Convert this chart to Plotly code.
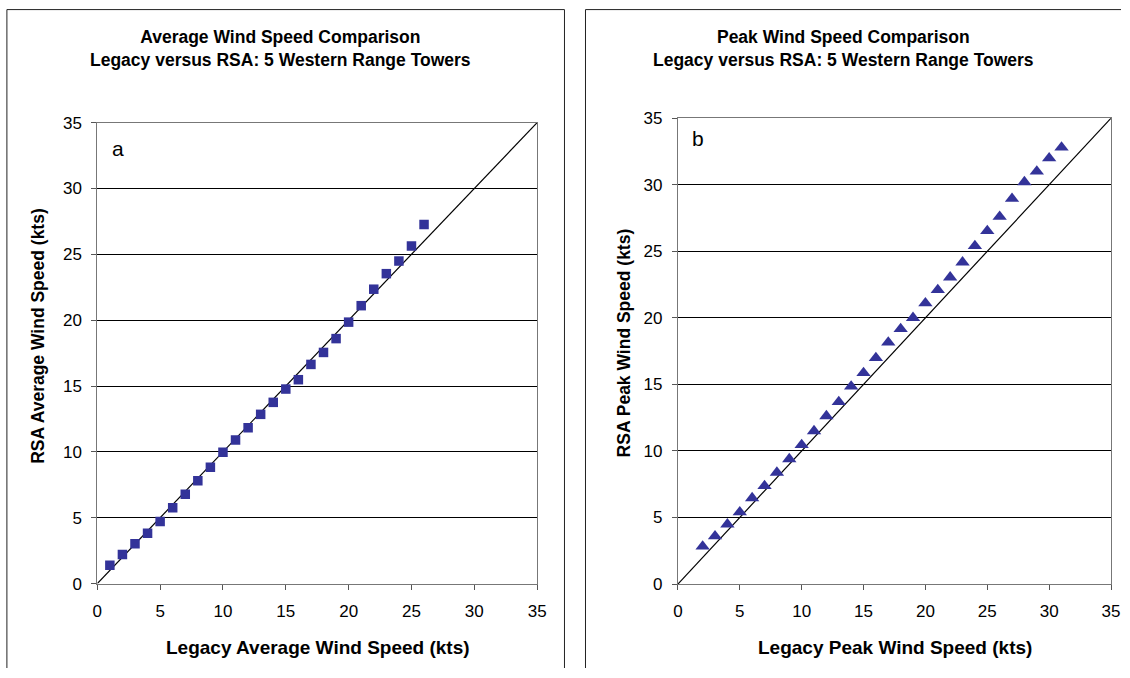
import plotly.graph_objects as go

# ---- data ----
avg_legacy = list(range(1, 27))
avg_rsa = [1.39, 2.2, 3.03, 3.83, 4.72, 5.76, 6.79, 7.8, 8.83, 9.97,
           10.9, 11.84, 12.85, 13.76, 14.77, 15.48, 16.64, 17.55, 18.6, 19.85,
           21.1, 22.35, 23.53, 24.49, 25.63, 27.26]

peak_legacy = list(range(2, 32))
peak_rsa = [2.83, 3.6, 4.49, 5.4, 6.46, 7.37, 8.38, 9.39, 10.45, 11.5,
            12.62, 13.68, 14.85, 15.86, 16.99, 18.15, 19.17, 20.0, 21.1, 22.1,
            23.05, 24.17, 25.4, 26.53, 27.6, 28.95, 30.2, 31.0, 32.0, 32.8]

ref_line = [0, 35]
tick_vals = [0, 5, 10, 15, 20, 25, 30, 35]

titles = ["Average Wind Speed Comparison<br>Legacy versus RSA: 5 Western Range Towers",
          "Peak Wind Speed Comparison<br>Legacy versus RSA: 5 Western Range Towers"]
x_titles = ["Legacy Average Wind Speed (kts)", "Legacy Peak Wind Speed (kts)"]
y_titles = ["RSA Average Wind Speed (kts)", "RSA Peak Wind Speed (kts)"]
panel_labels = ["a", "b"]

W, H = 1130, 678
FONT = "Liberation Sans, Arial, sans-serif"
MARK = "#333399"

# map target picture pixel positions to figure pixels (compensates capture scaling)
SX, OX = 0.9866, 5.1
SY, OY = 0.972, 9.1

def fx(x):
    return (x - OX) / SX

def fy(y):
    return (y - OY) / SY

def px(x):
    return min(max(fx(x) / W, 0), 1)

def py(y):
    return min(max(1 - fy(y) / H, 0), 1)

fig = go.Figure()

fig.add_trace(go.Scatter(x=ref_line, y=ref_line, mode="lines",
                         line=dict(color="black", width=1.2), xaxis="x", yaxis="y",
                         hoverinfo="skip", showlegend=False))
fig.add_trace(go.Scatter(x=ref_line, y=ref_line, mode="lines",
                         line=dict(color="black", width=1.2), xaxis="x2", yaxis="y2",
                         hoverinfo="skip", showlegend=False))

fig.add_trace(go.Scatter(x=avg_legacy, y=avg_rsa, mode="markers",
                         marker=dict(symbol="square", size=9.5, color=MARK,
                                     line=dict(width=0)),
                         xaxis="x", yaxis="y", showlegend=False))
fig.add_trace(go.Scatter(x=peak_legacy, y=peak_rsa, mode="markers",
                         marker=dict(symbol="triangle-up", size=12.5, color=MARK,
                                     line=dict(width=0)),
                         xaxis="x2", yaxis="y2", showlegend=False))

axis_common = dict(range=[0, 35], tickvals=tick_vals, ticks="outside", ticklen=5,
                   tickcolor="#555555", linecolor="#777777", linewidth=1,
                   mirror=True, showline=True, zeroline=False,
                   tickfont=dict(family=FONT, size=17, color="black"))

left_x = [97.3, 536.7]
right_x = [677.3, 1110]
left_y = [122.7, 583.7]
right_y = [118.3, 584.2]

fig.update_layout(
    width=W, height=H, margin=dict(l=0, r=0, t=0, b=0),
    paper_bgcolor="white", plot_bgcolor="white",
    xaxis=dict(domain=[px(left_x[0]), px(left_x[1])], anchor="y", showgrid=False,
               ticklabelstandoff=7, **axis_common),
    yaxis=dict(domain=[py(left_y[1]), py(left_y[0])], anchor="x", showgrid=True,
               gridcolor="black", gridwidth=1, ticklabelstandoff=6, **axis_common),
    xaxis2=dict(domain=[px(right_x[0]), px(right_x[1])], anchor="y2", showgrid=False,
                ticklabelstandoff=7, **axis_common),
    yaxis2=dict(domain=[py(right_y[1]), py(right_y[0])], anchor="x2", showgrid=True,
                gridcolor="black", gridwidth=1, ticklabelstandoff=6, **axis_common),
)

annotations = []
for i, cx in enumerate([280, 843]):
    annotations.append(dict(text="<b>" + titles[i] + "</b>", x=px(cx), y=py(48.5),
                            xref="paper", yref="paper", showarrow=False,
                            xanchor="center", yanchor="middle",
                            font=dict(family=FONT, size=17.5, color="black")))
for i, cx in enumerate([317.5, 894]):
    annotations.append(dict(text="<b>" + x_titles[i] + "</b>", x=px(cx), y=py(648),
                            xref="paper", yref="paper", showarrow=False,
                            xanchor="center", yanchor="middle",
                            font=dict(family=FONT, size=19, color="black")))
for i, (cx, cy) in enumerate([(38, 336), (623, 343)]):
    annotations.append(dict(text="<b>" + y_titles[i] + "</b>", x=px(cx), y=py(cy),
                            xref="paper", yref="paper", showarrow=False, textangle=-90,
                            xanchor="center", yanchor="middle",
                            font=dict(family=FONT, size=17.5, color="black")))
for i, pos in enumerate([(117.7, 148.3), (697.7, 138.3)]):
    annotations.append(dict(text=panel_labels[i], x=px(pos[0]), y=py(pos[1]),
                            xref="paper", yref="paper", showarrow=False,
                            xanchor="center", yanchor="middle",
                            font=dict(family=FONT, size=21, color="black")))
fig.update_layout(annotations=annotations)

# panel frames (kept inside the figure)
frame = dict(color="#222222", width=1)
TOP = 1 - 0.6 / H
def hline(x0, x1):
    return dict(type="line", xref="paper", yref="paper", x0=px(x0), x1=px(x1),
                y0=TOP, y1=TOP, line=frame)
def vline(x):
    return dict(type="line", xref="paper", yref="paper", x0=px(x), x1=px(x),
                y0=0, y1=TOP, line=frame)
shapes = [hline(7, 564), vline(7), vline(564), hline(585, 1135), vline(585)]
fig.update_layout(shapes=shapes)

fig.write_html("out.html", config={"displayModeBar": False},
               post_script="document.body.style.margin='0';document.body.style.overflow='hidden';")
